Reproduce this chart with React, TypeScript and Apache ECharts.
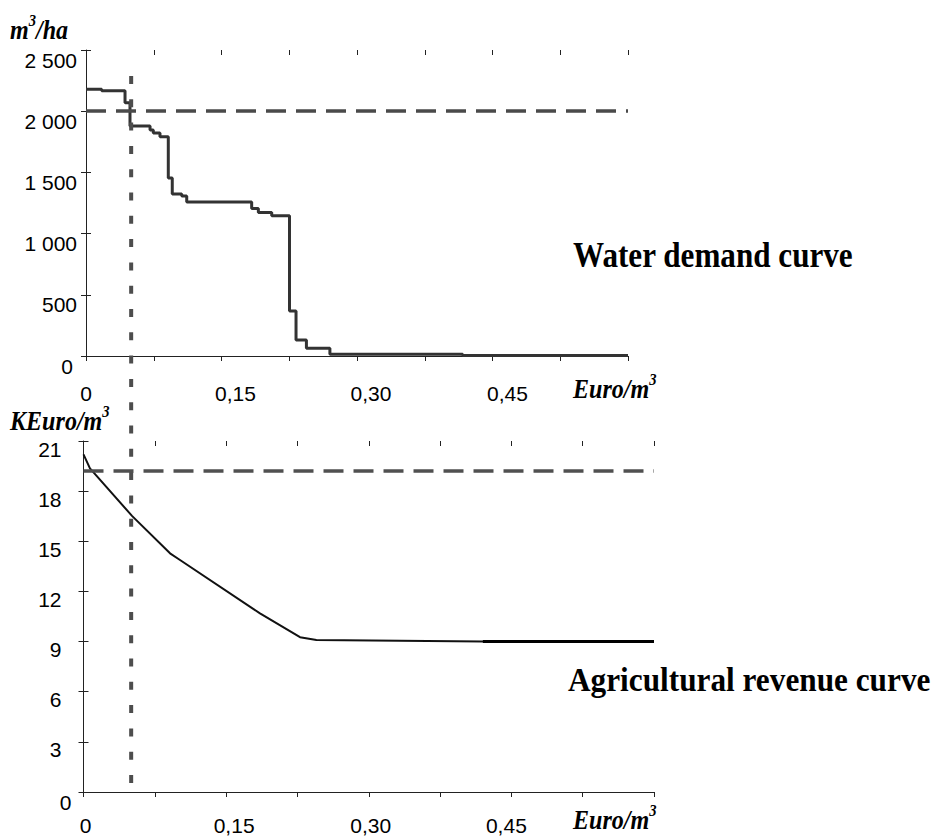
import React, { useEffect, useRef } from "react";
import * as echarts from "echarts";

// Water demand (m3/ha) as a step function of the water price (Euro/m3)
const demandPrice = [0, 0.0174, 0.0432, 0.0487, 0.0709, 0.0745, 0.0819, 0.0911, 0.0955, 0.106, 0.1115, 0.1834, 0.1908, 0.2056, 0.2253, 0.2325, 0.244, 0.27, 0.417, 0.6];
const demandVolume = [2179, 2168, 2070, 1879, 1846, 1822, 1792, 1454, 1323, 1307, 1258, 1206, 1173, 1146, 368, 131, 63, 15, 5, 5];

// Agricultural revenue (KEuro/m3) against the water price
const revenuePrice = [0, 0.0068, 0.051, 0.091, 0.1015, 0.1856, 0.2277, 0.245, 0.42, 0.6];
const revenueValue = [20.2, 19.36, 16.52, 14.28, 13.88, 10.69, 9.26, 9.1, 9.0, 9.0];

// Reference levels
const demandCap = 2000;
const revenueRef = 19.2;
const chosenPrice = 0.05;

// Tick labels on the price axes
const priceLabels = [0, 0.15, 0.3, 0.45];
const demandTicks = [0, 500, 1000, 1500, 2000, 2500];
const revenueTicks = [0, 3, 6, 9, 12, 15, 18, 21];

const AX = "#222";
const LABEL_FONT = "'Liberation Sans', Arial, sans-serif";
const LABEL_SIZE = 21;
const SERIF = "'Liberation Serif', 'Times New Roman', serif";

const fmtPrice = (v: number) => (v === 0 ? "0" : v.toFixed(2).replace(".", ","));
const fmtThousands = (v: number) =>
  v >= 1000 ? `${Math.floor(v / 1000)} ${String(v % 1000).padStart(3, "0")}` : String(v);

function priceAxis(gridIndex: number, inside: boolean, shifts: number[], margin: number) {
  const rich: Record<string, any> = {};
  shifts.forEach((s, i) => {
    rich["p" + i] = {
      fontSize: LABEL_SIZE,
      fontFamily: LABEL_FONT,
      color: "#000",
      padding: s >= 0 ? [0, 0, 0, 2 * s] : [0, -2 * s, 0, 0],
    };
  });
  return {
    type: "value",
    gridIndex,
    min: 0,
    max: 0.6,
    interval: 0.075,
    axisLine: { show: !inside, onZero: false, lineStyle: { color: AX, width: 1 } },
    axisTick: { show: true, inside, length: 5, lineStyle: { color: AX, width: 1 } },
    splitLine: { show: false },
    axisLabel: {
      show: !inside,
      margin,
      fontSize: LABEL_SIZE,
      fontFamily: LABEL_FONT,
      color: "#000",
      formatter: (v: number) => {
        const i = priceLabels.findIndex((t) => Math.abs(t - v) < 1e-9);
        return i < 0 ? "" : `{p${i}|${fmtPrice(v)}}`;
      },
      rich,
    },
  };
}

function valueAxis(
  gridIndex: number,
  inside: boolean,
  ticks: number[],
  fmt: (v: number) => string,
  margin: number,
  pad: number[],
  zeroPad: number[]
) {
  return {
    type: "value",
    gridIndex,
    position: "left",
    min: ticks[0],
    max: ticks[ticks.length - 1],
    interval: ticks[1] - ticks[0],
    axisLine: { show: !inside, onZero: false, lineStyle: { color: AX, width: 1 } },
    axisTick: { show: true, inside, length: 5, lineStyle: { color: AX, width: 1 } },
    splitLine: { show: false },
    axisLabel: {
      show: !inside,
      margin,
      formatter: (v: number) => (v === 0 ? `{z|0}` : `{v|${fmt(v)}}`),
      rich: {
        v: { fontSize: LABEL_SIZE, fontFamily: LABEL_FONT, color: "#000", padding: pad },
        z: { fontSize: LABEL_SIZE, fontFamily: LABEL_FONT, color: "#000", padding: zeroPad },
      },
    },
  };
}

function unitText(x: number, y: number, main: string, sup: string, rest: string, size: number) {
  const t = { fontSize: size, fontFamily: SERIF, fontWeight: "bold", fontStyle: "italic", fill: "#000", verticalAlign: "bottom", lineHeight: size + 4 };
  const s = { fontSize: Math.round(size * 0.62), fontFamily: SERIF, fontWeight: "bold", fontStyle: "italic", fill: "#000", verticalAlign: "top", lineHeight: Math.round(size * 0.62) };
  return {
    type: "text",
    x,
    y,
    scaleX: 0.86,
    style: {
      text: `{t|${main}}{s|${sup}}` + (rest ? `{t|${rest}}` : ""),
      rich: { t, s },
      align: "left",
      verticalAlign: "middle",
    },
  };
}

function titleText(x: number, y: number, text: string, size: number, scaleX: number) {
  return {
    type: "text",
    x,
    y,
    scaleX,
    style: {
      text,
      fontSize: size,
      fontFamily: SERIF,
      fontWeight: "bold",
      fill: "#000",
      align: "left",
      verticalAlign: "middle",
    },
  };
}

export default function App() {
  const ref = useRef<HTMLDivElement>(null);

  useEffect(() => {
    if (!ref.current) return;
    const chart = echarts.init(ref.current, null, { renderer: "svg" });

    const demandData = demandPrice.map((p, i) => [p, demandVolume[i]]);
    const revenueData = revenuePrice.map((p, i) => [p, revenueValue[i]]);
    const revenueTail = revenueData.filter((d) => d[0] >= 0.42);

    chart.setOption({
      animation: false,
      backgroundColor: "#fff",
      grid: [
        { left: 86, top: 50, width: 542, height: 306 },
        { left: 83.5, top: 441, width: 570.5, height: 351 },
        { left: 86, top: 76, width: 542, height: 709 },
      ],
      xAxis: [
        priceAxis(0, false, [0, 14, 14, 15], 27),
        priceAxis(0, true, [0, 0, 0, 0], 0),
        priceAxis(1, false, [2, 8, 2, -5], 23),
        priceAxis(1, true, [0, 0, 0, 0], 0),
        { type: "value", gridIndex: 2, min: 0, max: 0.6, show: false },
      ],
      yAxis: [
        valueAxis(0, false, demandTicks, fmtThousands, 9, [20, 0, 0, 0], [20, 4, 0, 0]),
        valueAxis(0, true, demandTicks, fmtThousands, 9, [20, 0, 0, 0], [20, 0, 0, 0]),
        valueAxis(1, false, revenueTicks, String, 12, [16, 10, 0, 0], [20, 0, 0, 0]),
        valueAxis(1, true, revenueTicks, String, 12, [16, 10, 0, 0], [20, 0, 0, 0]),
        { type: "value", gridIndex: 2, min: 0, max: 1, show: false },
      ],
      series: [
        {
          name: "Water demand",
          type: "line",
          xAxisIndex: 0,
          yAxisIndex: 0,
          step: "end",
          data: demandData,
          symbol: "none",
          lineStyle: { color: "#333", width: 3 },
          markLine: {
            silent: true,
            symbol: "none",
            label: { show: false },
            lineStyle: { color: "#4a4a4a", width: 3.5, type: [20, 10] },
            data: [{ yAxis: demandCap }],
          },
        },
        {
          name: "Agricultural revenue",
          type: "line",
          xAxisIndex: 2,
          yAxisIndex: 2,
          data: revenueData,
          symbol: "none",
          lineStyle: { color: "#111", width: 2 },
          markLine: {
            silent: true,
            symbol: "none",
            label: { show: false },
            lineStyle: { color: "#505050", width: 3.5, type: [20, 10] },
            data: [{ yAxis: revenueRef }],
          },
        },
        {
          name: "Agricultural revenue tail",
          type: "line",
          xAxisIndex: 2,
          yAxisIndex: 2,
          data: revenueTail,
          symbol: "none",
          lineStyle: { color: "#000", width: 3 },
        },
        {
          name: "Chosen price",
          type: "line",
          xAxisIndex: 4,
          yAxisIndex: 4,
          data: [
            [chosenPrice, 1],
            [chosenPrice, 0],
          ],
          symbol: "none",
          lineStyle: { color: "#4d4d4d", width: 4, type: [8, 15.3], cap: "butt" },
        },
      ],
      graphic: [
        unitText(10, 28, "m", "3", "/ha", 28),
        unitText(10, 419, "KEuro/m", "3", "", 28),
        unitText(573, 387, "Euro/m", "3", "", 28),
        unitText(573, 818, "Euro/m", "3", "", 28),
        titleText(573, 255, "Water demand curve", 35, 0.89),
        titleText(568, 680, "Agricultural revenue curve", 34, 0.92),
      ],
    });

    return () => chart.dispose();
  }, []);

  return (
    <div
      ref={ref}
      style={{ position: "fixed", left: 0, top: 0, width: 937, height: 836, background: "#fff" }}
    />
  );
}
